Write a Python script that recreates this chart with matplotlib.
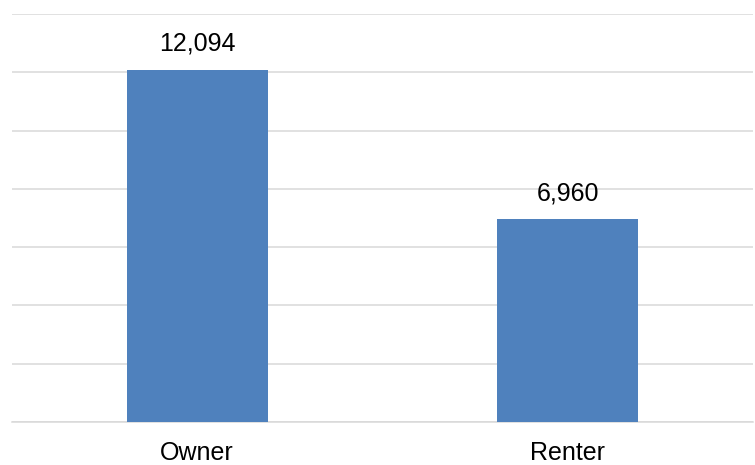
import matplotlib.pyplot as plt

categorias = ['Owner', 'Renter']
valores = [12094, 6960]
etiquetas = ['12,094', '6,960']

plt.rcParams['font.family'] = ['Liberation Sans', 'DejaVu Sans']

fig = plt.figure(figsize=(7.55, 4.65), dpi=100)
ax = fig.add_axes([12/755, 1-422/465, 741/755, 408/465])

xx = range(len(valores))
barras = ax.bar(xx, valores, width=0.38, color='#4f81bd', zorder=3)

ax.set_ylim(0, 14000)
ax.set_xlim(-0.5, 1.5)
ax.set_yticks(range(0, 14001, 2000))
ax.yaxis.grid(True, color='#d9d9d9', linewidth=1.1, zorder=0)
ax.tick_params(axis='y', left=False, labelleft=False)
ax.tick_params(axis='x', bottom=False, labelsize=18, pad=10)
ax.set_xticks(list(xx))
ax.set_xticklabels(categorias)

for s in ['top', 'right', 'left']:
    ax.spines[s].set_visible(False)
ax.spines['bottom'].set_color('#d9d9d9')
ax.spines['bottom'].set_linewidth(1.1)

for b, t in zip(barras, etiquetas):
    ax.annotate(t, (b.get_x() + b.get_width()/2, b.get_height()),
                xytext=(0, 10), textcoords='offset points',
                ha='center', va='bottom', fontsize=18)

fig.savefig('out.png', dpi=100)
